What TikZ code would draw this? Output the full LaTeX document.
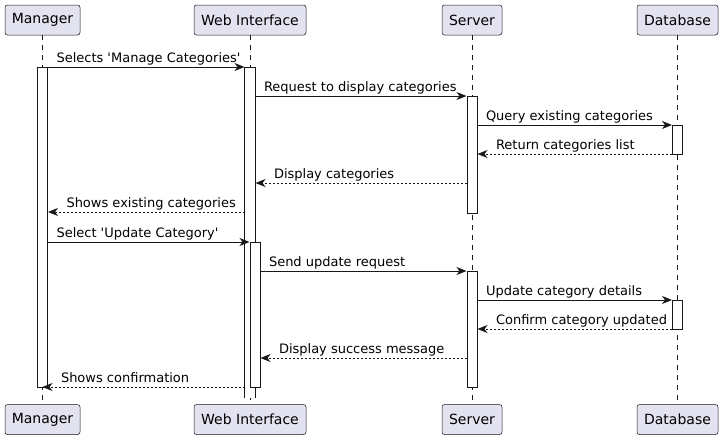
\documentclass[tikz,border=0pt]{standalone}
\usepackage{fontspec}
\setmainfont{DejaVu Sans}
\usetikzlibrary{arrows.meta}
\definecolor{partfill}{HTML}{E2E2F0}
\definecolor{umlline}{HTML}{181818}
\tikzset{
  part/.style={draw=umlline, fill=partfill, rounded corners=2.5pt, line width=0.5pt,
    minimum height=30pt, inner sep=0pt, font=\fontsize{14}{16}\selectfont},
  life/.style={draw=umlline, line width=0.5pt, dash pattern=on 5pt off 5pt},
  act/.style={draw=umlline, fill=white, line width=1pt, minimum width=10pt,
    inner sep=0pt, anchor=north},
  msg/.style={draw=umlline, line width=1pt, -{Stealth[length=10pt,width=8pt,inset=3pt]}},
  ret/.style={msg, dash pattern=on 2pt off 2pt},
  lbl/.style={font=\fontsize{13}{15}\selectfont, inner sep=0pt, anchor=base west, yshift=5pt}
}
\begin{document}
\begin{tikzpicture}[x=1pt,y=-1pt]
			\useasboundingbox (0,0) rectangle (723,440);
			% participants
			\node[part, minimum width=75pt] (mgr) at (42.5,20) {Manager};
			\node[part, minimum width=112pt] (web) at (250,20) {Web Interface};
			\node[part, minimum width=60pt] (srv) at (472,20) {Server};
			\node[part, minimum width=81pt] (db) at (677.5,20) {Database};
			\node[part, minimum width=75pt] (mgrB) at (42.5,419.5) {Manager};
			\node[part, minimum width=112pt] (webB) at (250,419.5) {Web Interface};
			\node[part, minimum width=60pt] (srvB) at (472,419.5) {Server};
			\node[part, minimum width=81pt] (dbB) at (677.5,419.5) {Database};
			% lifelines
			\draw[life] (mgr) -- (mgrB);
			\draw[life] (web) -- (webB);
			\draw[life] (srv) -- (srvB);
			\draw[life] (db) -- (dbB);
			% activations
			\node[act, minimum height=320pt] (mgrA) at (mgr |- 0,67) {};
			\node[act, draw=none, minimum height=330pt] (webA) at (web |- 0,67) {};
			\draw[umlline, line width=1pt] (webA.south west) -- (webA.north west) -- (webA.north east) -- (webA.south east);
			\node[act, minimum height=145pt] (webA2) at ([xshift=5pt]web |- 0,242) {};
			\node[act, minimum height=117pt] (srvA) at (srv |- 0,96) {};
			\node[act, minimum height=116pt] (srvA2) at (srv |- 0,271) {};
			\node[act, minimum height=29pt] (dbA) at (db |- 0,125) {};
			\node[act, minimum height=29pt] (dbA2) at (db |- 0,300) {};
			% messages
			\draw[msg] (mgrA.east |- 0,67) -- (webA.west |- 0,67)
				node[lbl, at start, xshift=8pt] {Selects \textquotesingle Manage Categories\textquotesingle};
			\draw[msg] (webA.east |- 0,96) -- (srvA.west |- 0,96)
				node[lbl, at start, xshift=8pt] {Request to display categories};
			\draw[msg] (srvA.east |- 0,125) -- (dbA.west |- 0,125)
				node[lbl, at start, xshift=8pt] {Query existing categories};
			\draw[ret] (dbA.west |- 0,154) -- (srvA.east |- 0,154)
				node[lbl, at end, xshift=18pt] {Return categories list};
			\draw[ret] (srvA.west |- 0,183) -- (webA.east |- 0,183)
				node[lbl, at end, xshift=18pt] {Display categories};
			\draw[ret] (webA.west |- 0,212) -- (mgrA.east |- 0,212)
				node[lbl, at end, xshift=18pt] {Shows existing categories};
			\draw[msg] (mgrA.east |- 0,242) -- (webA2.west |- 0,242)
				node[lbl, at start, xshift=8pt] {Select \textquotesingle Update Category\textquotesingle};
			\draw[msg] (webA2.east |- 0,271) -- (srvA2.west |- 0,271)
				node[lbl, at start, xshift=8pt] {Send update request};
			\draw[msg] (srvA2.east |- 0,300) -- (dbA2.west |- 0,300)
				node[lbl, at start, xshift=8pt] {Update category details};
			\draw[ret] (dbA2.west |- 0,329) -- (srvA2.east |- 0,329)
				node[lbl, at end, xshift=18pt] {Confirm category updated};
			\draw[ret] (srvA2.west |- 0,358) -- (webA2.east |- 0,358)
				node[lbl, at end, xshift=18pt] {Display success message};
			\draw[ret] (webA.west |- 0,387) -- (mgr |- 0,387)
				node[lbl, at end, xshift=18pt] {Shows confirmation};
		\end{tikzpicture}
\end{document}
